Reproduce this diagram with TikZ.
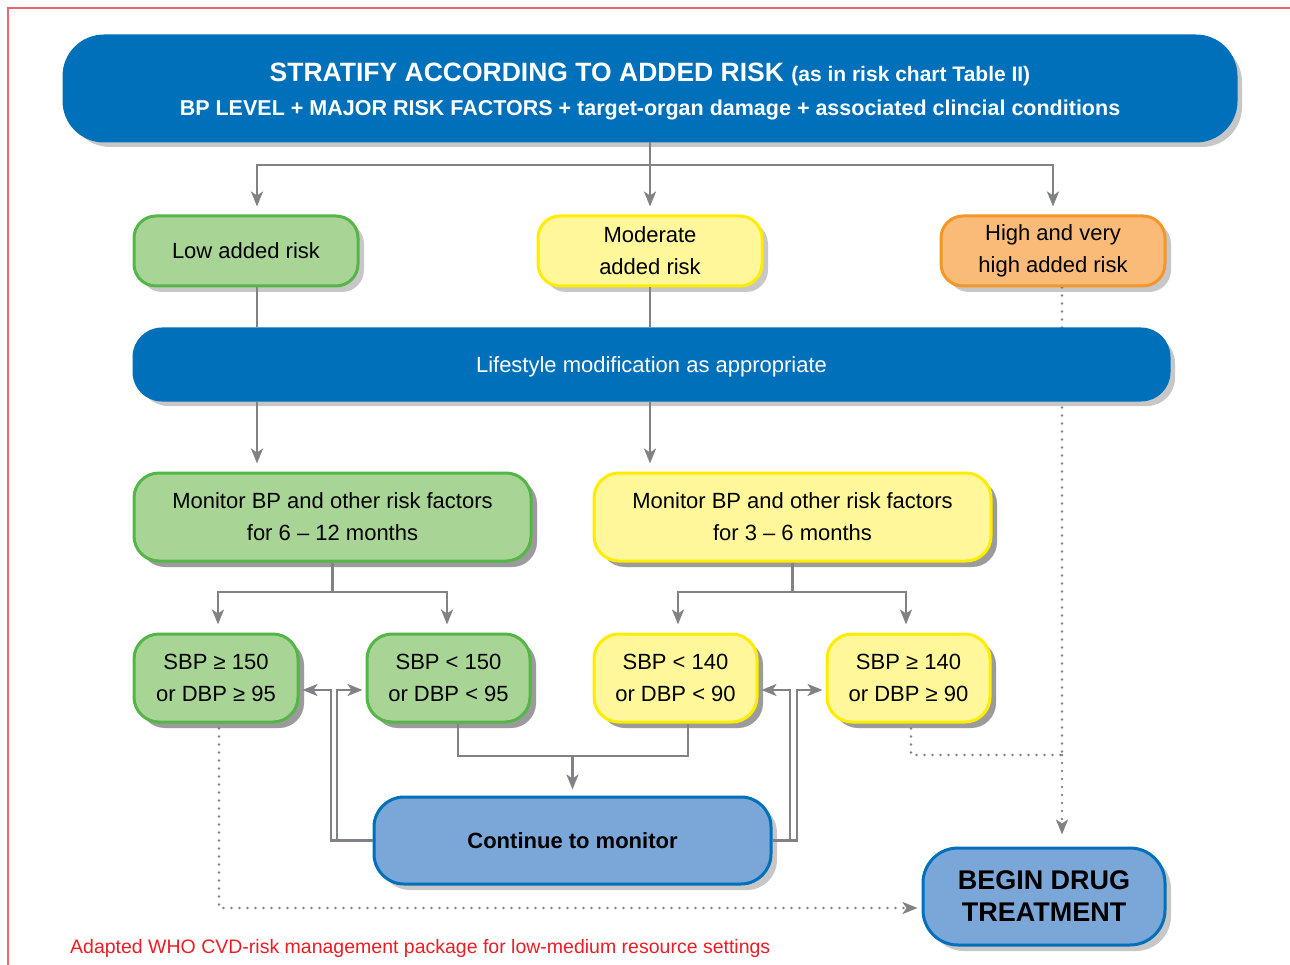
\documentclass[tikz,border=0pt]{standalone}
\usepackage{fontspec}
\setmainfont{Liberation Sans}
\usetikzlibrary{shadows,arrows.meta,calc,backgrounds}
\definecolor{blueA}{RGB}{0,112,186}
\definecolor{blueL}{RGB}{122,166,216}
\definecolor{greenF}{RGB}{168,213,150}
\definecolor{greenB}{RGB}{85,182,72}
\definecolor{yelF}{RGB}{255,247,153}
\definecolor{yelB}{RGB}{255,236,0}
\definecolor{oraF}{RGB}{250,186,120}
\definecolor{oraB}{RGB}{244,150,40}
\definecolor{conn}{RGB}{128,130,133}
\definecolor{capred}{RGB}{237,28,36}
\definecolor{framered}{RGB}{236,100,110}
\begin{document}
\begin{tikzpicture}[x=1pt,y=-1pt,
  box/.style={rounded corners=#1, line width=3pt, align=center, inner sep=0pt,
    drop shadow={shadow xshift=6pt,shadow yshift=-6pt,fill=black,opacity=0.22}},
  gbox/.style={box=22pt, draw=greenB, fill=greenF},
  ybox/.style={box=22pt, draw=yelB, fill=yelF},
  obox/.style={box=22pt, draw=oraB, fill=oraF},
  bbox/.style={box=#1, draw=blueA, fill=blueA, text=white},
  lbox/.style={box=#1, draw=blueA, fill=blueL},
  txt/.style={font=\fontsize{22}{32}\selectfont},
  line/.style={draw=conn, line width=2.5pt},
  arr/.style={line, -{Stealth[length=15pt,width=12pt,inset=4pt]}, shorten >=3pt},
  dotl/.style={draw=conn, line width=2.8pt, dash pattern=on 0pt off 8pt, line cap=round},
]
\useasboundingbox (0,0) rectangle (1290,965);
\draw[framered, line width=1.5pt] (8,965) -- (8,8) -- (1290,8);

% nodes
\node[bbox=40pt, minimum width=1172pt, minimum height=105pt] (top) at (650,88.5) {};
\node[text=white, align=center, inner sep=0pt, font=\fontsize{22}{34}\selectfont\bfseries] (toptxt) at ([yshift=-3pt]top.center)
  {{\fontsize{26.5}{34}\selectfont STRATIFY ACCORDING TO ADDED RISK {\fontsize{21}{34}\selectfont (as in risk chart Table II)}}\\
   {\fontsize{21.5}{34}\selectfont BP LEVEL + MAJOR RISK FACTORS + target-organ damage + associated clincial conditions}};
\node[gbox, txt, minimum width=224pt, minimum height=70pt] (low) at (246,251) {Low added risk};
\node[ybox, txt, minimum width=224pt, minimum height=70pt] (mod) at (650,251) {Moderate\\added risk};
\node[obox, txt, minimum width=224pt, minimum height=70pt] (high) at (1053,251) {High and very\\high added risk};
\node[bbox=28pt, txt, minimum width=1035pt, minimum height=71pt] (life) at (651.5,364.5) {};
\node[text=white, txt, inner sep=0pt] (lifetxt) at ([yshift=-2.5pt]life.center) {Lifestyle modification as appropriate};
\node[gbox, box=25pt, txt, minimum width=397pt, minimum height=88pt] (mon1) at (332.5,517) {Monitor BP and other risk factors\\for 6 -- 12 months};
\node[ybox, box=25pt, txt, minimum width=397pt, minimum height=88pt] (mon2) at (792.5,517) {Monitor BP and other risk factors\\for 3 -- 6 months};
\node[gbox, box=25pt, txt, minimum width=164pt, minimum height=88pt] (sA) at (216,678) {SBP ≥ 150\\or DBP ≥ 95};
\node[gbox, box=25pt, txt, minimum width=163pt, minimum height=88pt] (sB) at (448.5,678) {SBP < 150\\or DBP < 95};
\node[ybox, box=25pt, txt, minimum width=163pt, minimum height=88pt] (sC) at (675.5,678) {SBP < 140\\or DBP < 90};
\node[ybox, box=25pt, txt, minimum width=163pt, minimum height=88pt] (sD) at (908.5,678) {SBP ≥ 140\\or DBP ≥ 90};
\node[lbox=30pt, minimum width=397pt, minimum height=87pt, font=\fontsize{22}{30}\selectfont\bfseries] (cont) at (572.5,840.5) {Continue to monitor};
\node[lbox=35pt, minimum width=242pt, minimum height=97pt, font=\fontsize{27}{32}\selectfont\bfseries] (drug) at (1044,896.5) {BEGIN DRUG\\TREATMENT};
\node[anchor=west, text=capred, inner sep=0pt, font=\fontsize{19.5}{24}\selectfont] (cap) at (70,948) {Adapted WHO CVD-risk management package for low-medium resource settings};

% coordinates
\coordinate (j1) at (650,165);
\coordinate (xL) at (257,0);
\coordinate (xH) at (1062,0);
\coordinate (j2) at (332.5,592);
\coordinate (j3) at (792.5,592);
\coordinate (j4) at (572.5,756);
\coordinate (vA) at (331,690);
\coordinate (vB) at (337,690);
\coordinate (vC) at (790,690);
\coordinate (vD) at (797,690);
\coordinate (jH) at (1062,755);

% dotted line behind lifestyle box
\begin{scope}[on background layer]
\draw[dotl] (high.south -| xH) -- (jH);
\end{scope}
\draw[dotl, -{Stealth[length=15pt,width=12pt,inset=4pt]}, shorten >=12pt] (jH) -- (drug.north -| xH);
\draw[dotl, shorten <=5pt] (sD.south -| 911,0) |- (jH);
\draw[dotl, shorten <=5pt, -{Stealth[length=15pt,width=12pt,inset=4pt]}, shorten >=4pt] (sA.south -| 219,0) |- ([yshift=-11.5pt]drug.west);

% connectors
\draw[line] (top.south) -- (j1);
\draw[arr, shorten >=8pt] (j1) -| (low.north -| xL);
\draw[arr, shorten >=8pt] (j1) -- (mod.north);
\draw[arr, shorten >=8pt] (j1) -| (high.north);
\draw[line] (low.south -| xL) -- (life.north -| xL);
\draw[line] (mod.south) -- (life.north -| mod.south);
\draw[arr, shorten >=8pt] (life.south -| xL) -- (mon1.north -| xL);
\draw[arr, shorten >=8pt] (life.south -| mod.south) -- (mon2.north -| mod.south);
\draw[line] (mon1.south) -- (j2);
\draw[arr, shorten >=8pt] (j2) -| ([xshift=2pt]sA.north);
\draw[arr, shorten >=8pt] (j2) -| ([xshift=-1.5pt]sB.north);
\draw[line] (mon2.south) -- (j3);
\draw[arr, shorten >=8pt] (j3) -| ([xshift=2.5pt]sC.north);
\draw[arr, shorten >=8pt] (j3) -| ([xshift=-2.5pt]sD.north);
\draw[line] ([xshift=9.5pt]sB.south) |- (j4) -| ([xshift=12.5pt]sC.south);
\draw[arr, shorten >=6pt] (j4) -- (cont.north);
\draw[arr] (cont.west) -| (vA) -- (vA -| sA.east);
\draw[arr] (cont.west) -| (vB) -- (vB -| sB.west);
\draw[arr] (cont.east) -| (vC) -- (vC -| sC.east);
\draw[arr] (cont.east) -| (vD) -- (vD -| sD.west);
\end{tikzpicture}
\end{document}
